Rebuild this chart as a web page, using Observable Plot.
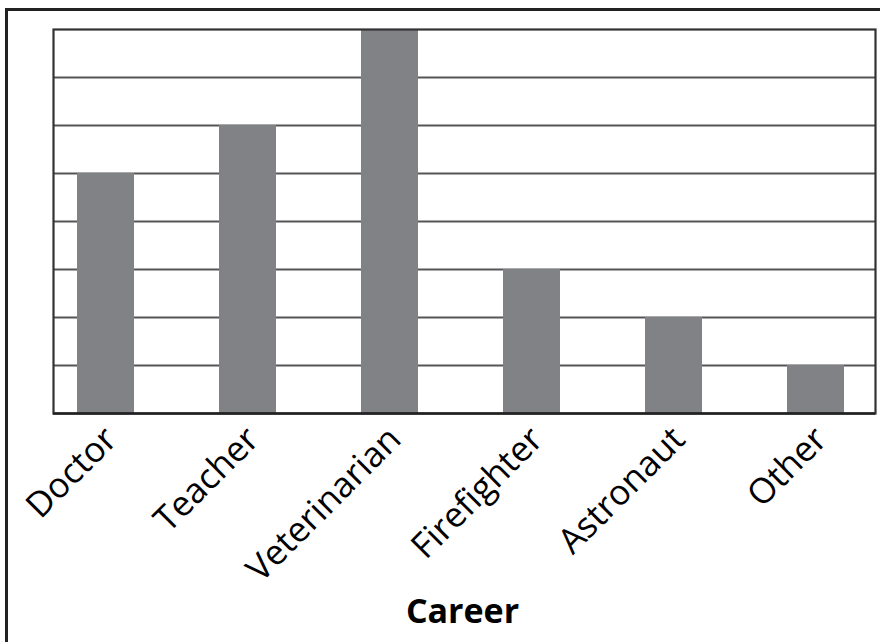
<!DOCTYPE html>
<html>
<head>
<meta charset="utf-8">
<script src="https://cdn.jsdelivr.net/npm/d3@7"></script>
<script src="https://cdn.jsdelivr.net/npm/@observablehq/plot@0.6"></script>
<style>
  html, body { margin: 0; padding: 0; background: #fff; overflow: hidden; }
  #outer { position: absolute; left: 5px; top: 8px; width: 900px; height: 700px;
           border-left: 3px solid #222; border-top: 3px solid #222; pointer-events: none; }
  #chart { position: absolute; left: 0; top: 0; }
</style>
</head>
<body>
<div id="chart"></div>
<div id="outer"></div>
<script>
const careers = ["Doctor", "Teacher", "Veterinarian", "Firefighter", "Astronaut", "Other"];
const counts = [5, 6, 8, 3, 2, 1];
const gridValues = [1, 2, 3, 4, 5, 6, 7];
const xTitle = "Career";

const data = careers.map((c, i) => ({career: c, count: counts[i]}));

const chart = Plot.plot({
  width: 880,
  height: 642,
  marginLeft: 53,
  marginRight: 5,
  marginTop: 29,
  marginBottom: 229,
  style: {fontFamily: "'Open Sans', sans-serif", background: "white", color: "black"},
  x: {domain: careers, paddingInner: 0.6, paddingOuter: 0.18, align: 0.43},
  y: {domain: [0, 8], axis: null},
  marks: [
    Plot.ruleY(gridValues, {stroke: "#555", strokeWidth: 1.8, strokeOpacity: 1}),
    Plot.barY(data, {x: "career", y: "count", fill: "#818285"}),
    Plot.frame({stroke: "#333", strokeWidth: 2.2}),
    Plot.ruleY([0], {stroke: "#222", strokeWidth: 2.5}),
    Plot.axisX({tickSize: 0, tickPadding: 20, dx: 5, tickRotate: -45, fontSize: 35, label: null, fill: "black"}),
    Plot.text([xTitle], {frameAnchor: "bottom", dy: 209, dx: -2, fontSize: 34, fontWeight: "bold", fill: "black"})
  ]
});
document.getElementById("chart").appendChild(chart);
</script>
</body>
</html>
